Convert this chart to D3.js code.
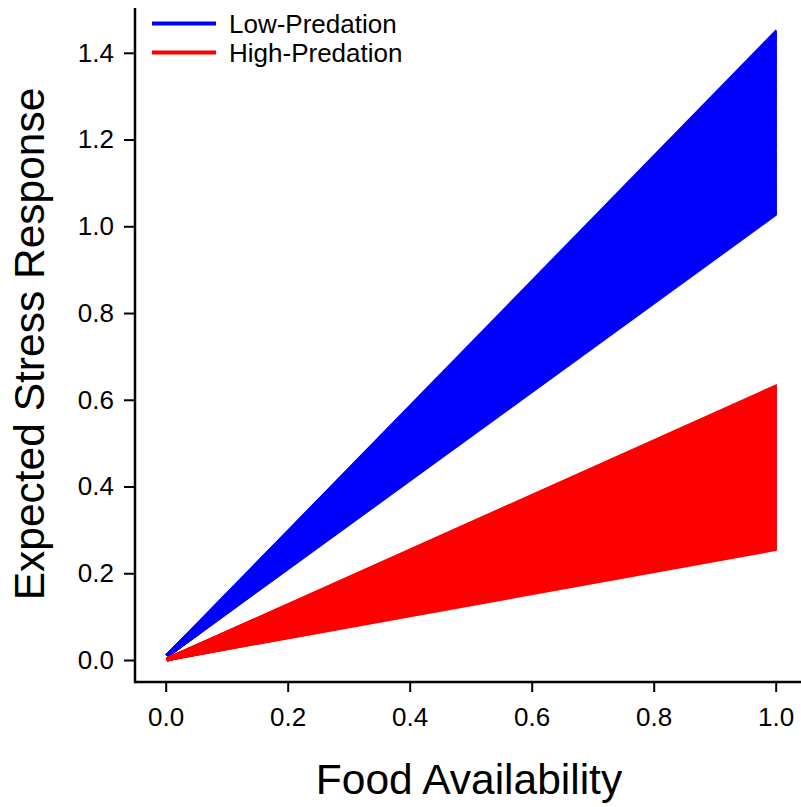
<!DOCTYPE html>
<html>
<head>
<meta charset="utf-8">
<script src="https://cdn.jsdelivr.net/npm/d3@7"></script>
<style>
  html, body { margin: 0; padding: 0; background: #fff; }
  svg { display: block; }
  text { font-family: "Liberation Sans", Arial, sans-serif; fill: #000; }
</style>
</head>
<body>
<svg id="chart" width="801" height="807"></svg>
<script>
// ---- Data ----
const foodRange = [0.005, 1.0];                 // x extent of each simulated line
const lowPredationStart = 0.013;                // expected response at the lowest food level
const highPredationStart = 0.003;
// expected response at food availability = 1.0, one value per simulated line
const lowPredationEnd = [1.029, 1.033, 1.039, 1.046, 1.052, 1.060, 1.067, 1.073, 1.081, 1.088,
  1.094, 1.101, 1.109, 1.116, 1.122, 1.130, 1.137, 1.143, 1.150, 1.158, 1.165, 1.171, 1.179,
  1.186, 1.192, 1.199, 1.207, 1.214, 1.220, 1.228, 1.235, 1.241, 1.248, 1.256, 1.263, 1.269,
  1.277, 1.284, 1.290, 1.297, 1.305, 1.312, 1.318, 1.326, 1.333, 1.339, 1.346, 1.354, 1.361,
  1.367, 1.375, 1.382, 1.388, 1.395, 1.403, 1.410, 1.416, 1.424, 1.431, 1.437, 1.443, 1.447];
const highPredationEnd = [0.256, 0.260, 0.265, 0.272, 0.278, 0.284, 0.291, 0.297, 0.303, 0.310,
  0.316, 0.322, 0.329, 0.335, 0.341, 0.348, 0.354, 0.360, 0.367, 0.373, 0.379, 0.386, 0.392,
  0.398, 0.405, 0.411, 0.417, 0.424, 0.430, 0.436, 0.443, 0.449, 0.455, 0.462, 0.468, 0.474,
  0.481, 0.487, 0.493, 0.500, 0.506, 0.512, 0.519, 0.525, 0.531, 0.538, 0.544, 0.550, 0.557,
  0.563, 0.569, 0.576, 0.582, 0.588, 0.595, 0.601, 0.607, 0.614, 0.620, 0.625, 0.630];
const xTicks = [0.0, 0.2, 0.4, 0.6, 0.8, 1.0];
const yTicks = [0.0, 0.2, 0.4, 0.6, 0.8, 1.0, 1.2, 1.4];
const seriesNames = ["Low-Predation", "High-Predation"];
const seriesColors = ["#0000ff", "#ff0000"];

// ---- Scales ----
const svg = d3.select("#chart");
const x = d3.scaleLinear().domain([0, 1]).range([165.7, 775.7]);
const y = d3.scaleLinear().domain([0, 1.4]).range([660, 52.8]);
const axisLeftX = 135, axisBottomY = 682;
const axisTopY = 8, axisRightX = 801;

// clip the simulated lines at the end of the food range so their ends form a straight edge
svg.append("defs").append("clipPath").attr("id", "dataClip")
  .append("rect").attr("x", x(0) - 10).attr("y", 0)
  .attr("width", x(foodRange[1]) + 1.2 - (x(0) - 10)).attr("height", axisBottomY);

// ---- Lines ----
const line = d3.line().x(d => x(d[0])).y(d => y(d[1]));
function drawGroup(ends, start, color) {
  svg.append("g")
    .attr("clip-path", "url(#dataClip)")
    .selectAll("path")
    .data(ends)
    .join("path")
    .attr("d", e => line([[foodRange[0], start], [foodRange[1], e]]))
    .attr("fill", "none")
    .attr("stroke", color)
    .attr("stroke-width", 4.2)
    .attr("stroke-linecap", "square");
}
drawGroup(lowPredationEnd, lowPredationStart, seriesColors[0]);
drawGroup(highPredationEnd, highPredationStart, seriesColors[1]);

// ---- Axes ----
const gx = svg.append("g").attr("transform", `translate(0,${axisBottomY})`)
  .call(d3.axisBottom(x).tickValues(xTicks).tickFormat(d3.format(".1f")).tickSize(10).tickPadding(16));
gx.select(".domain").remove();
gx.selectAll(".tick line").attr("stroke", "#000").attr("stroke-width", 2);
gx.selectAll(".tick text").style("font-size", "26px").attr("font-family", "Liberation Sans, Arial, sans-serif");
svg.append("line").attr("x1", axisLeftX).attr("x2", axisRightX)
  .attr("y1", axisBottomY).attr("y2", axisBottomY).attr("stroke", "#000").attr("stroke-width", 2.5);

const gy = svg.append("g").attr("transform", `translate(${axisLeftX},0)`)
  .call(d3.axisLeft(y).tickValues(yTicks).tickFormat(d3.format(".1f")).tickSize(11).tickPadding(10));
gy.select(".domain").remove();
gy.selectAll(".tick line").attr("stroke", "#000").attr("stroke-width", 2);
gy.selectAll(".tick text").style("font-size", "26px").attr("font-family", "Liberation Sans, Arial, sans-serif");
svg.append("line").attr("x1", axisLeftX).attr("x2", axisLeftX)
  .attr("y1", axisTopY).attr("y2", axisBottomY + 1.25).attr("stroke", "#000").attr("stroke-width", 2.5);

// ---- Axis titles ----
svg.append("text").attr("x", 469).attr("y", 794).attr("text-anchor", "middle")
  .style("font-size", "42.5px").text("Food Availability");
svg.append("text").attr("transform", "translate(44,344) rotate(-90)").attr("text-anchor", "middle")
  .style("font-size", "42.5px").text("Expected Stress Response");

// ---- Legend ----
const legend = svg.append("g");
seriesNames.forEach((name, i) => {
  const ly = 23.5 + i * 29;
  legend.append("line").attr("x1", 152).attr("x2", 216).attr("y1", ly).attr("y2", ly)
    .attr("stroke", seriesColors[i]).attr("stroke-width", 4);
  legend.append("text").attr("x", 229).attr("y", ly + 9.5).style("font-size", "26px").text(name);
});
</script>
</body>
</html>
